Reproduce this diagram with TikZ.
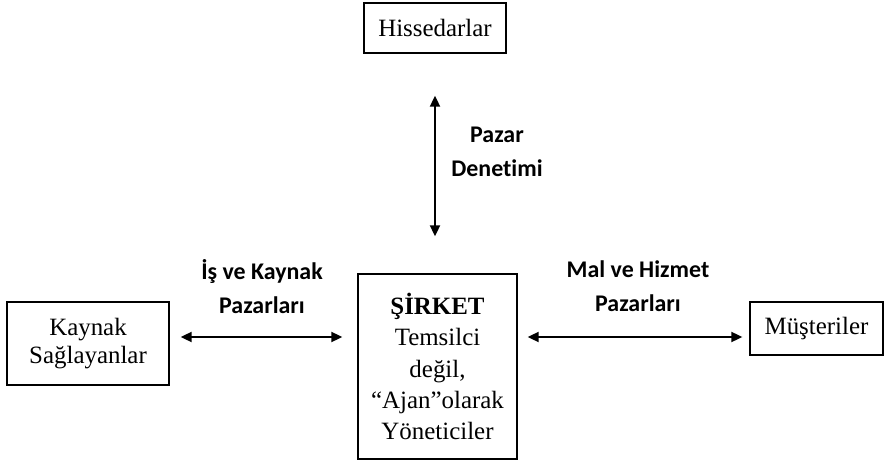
\documentclass[tikz,border=0pt]{standalone}
\usepackage{fontspec}
\setmainfont{Liberation Serif}
\newfontfamily\lblfont{Carlito}[Ligatures={NoCommon}]
\usetikzlibrary{arrows.meta}
\begin{document}
\begin{tikzpicture}[x=1bp,y=-1bp,
  box/.style={draw=black, line width=1.3bp, fill=white, align=center, inner sep=0pt,
    font=\fontsize{25}{29}\selectfont},
  lbl/.style={align=center, inner sep=0pt, font=\lblfont\bfseries\fontsize{24}{34}\selectfont},
  arr/.style={line width=1.8bp, {Triangle[length=11bp,width=10bp]}-{Triangle[length=11bp,width=10bp]}}
]
\useasboundingbox (0,0) rectangle (884,461);

% participants
\node[box, minimum width=142bp, minimum height=50bp] (his) at (435,28) {Hissedarlar};
\node[box, minimum width=159bp, minimum height=185bp,
      font=\fontsize{25}{31.5}\selectfont] (sirket) at (437.5,366.5)
  {\textbf{ŞİRKET}\\Temsilci\\değil,\\“Ajan”olarak\\Yöneticiler};
\node[box, minimum width=162bp, minimum height=83bp,
      font=\fontsize{25}{28}\selectfont] (kay) at (88,343.5) {Kaynak\\Sağlayanlar};
\node[box, minimum width=133bp, minimum height=53bp] (mus) at (816.5,328.5) {Müşteriler};

% market relations
\draw[arr, shorten <=42bp, shorten >=37bp] (his.south) -- (his.south |- sirket.north);
\draw[arr, shorten <=11bp, shorten >=15bp] (kay.east |- 0,337) -- (sirket.west |- 0,337);
\draw[arr, shorten <=10bp, shorten >=7bp] (sirket.east |- 0,337) -- (mus.west |- 0,337);

% labels
\node[lbl] (pd) at (497,152) {Pazar\\Denetimi};
\node[lbl] (iks) at (262,287) {İş ve Kaynak\\Pazarları};
\node[lbl] (mhp) at (638,286) {Mal ve Hizmet\\Pazarları};
\end{tikzpicture}
\end{document}
